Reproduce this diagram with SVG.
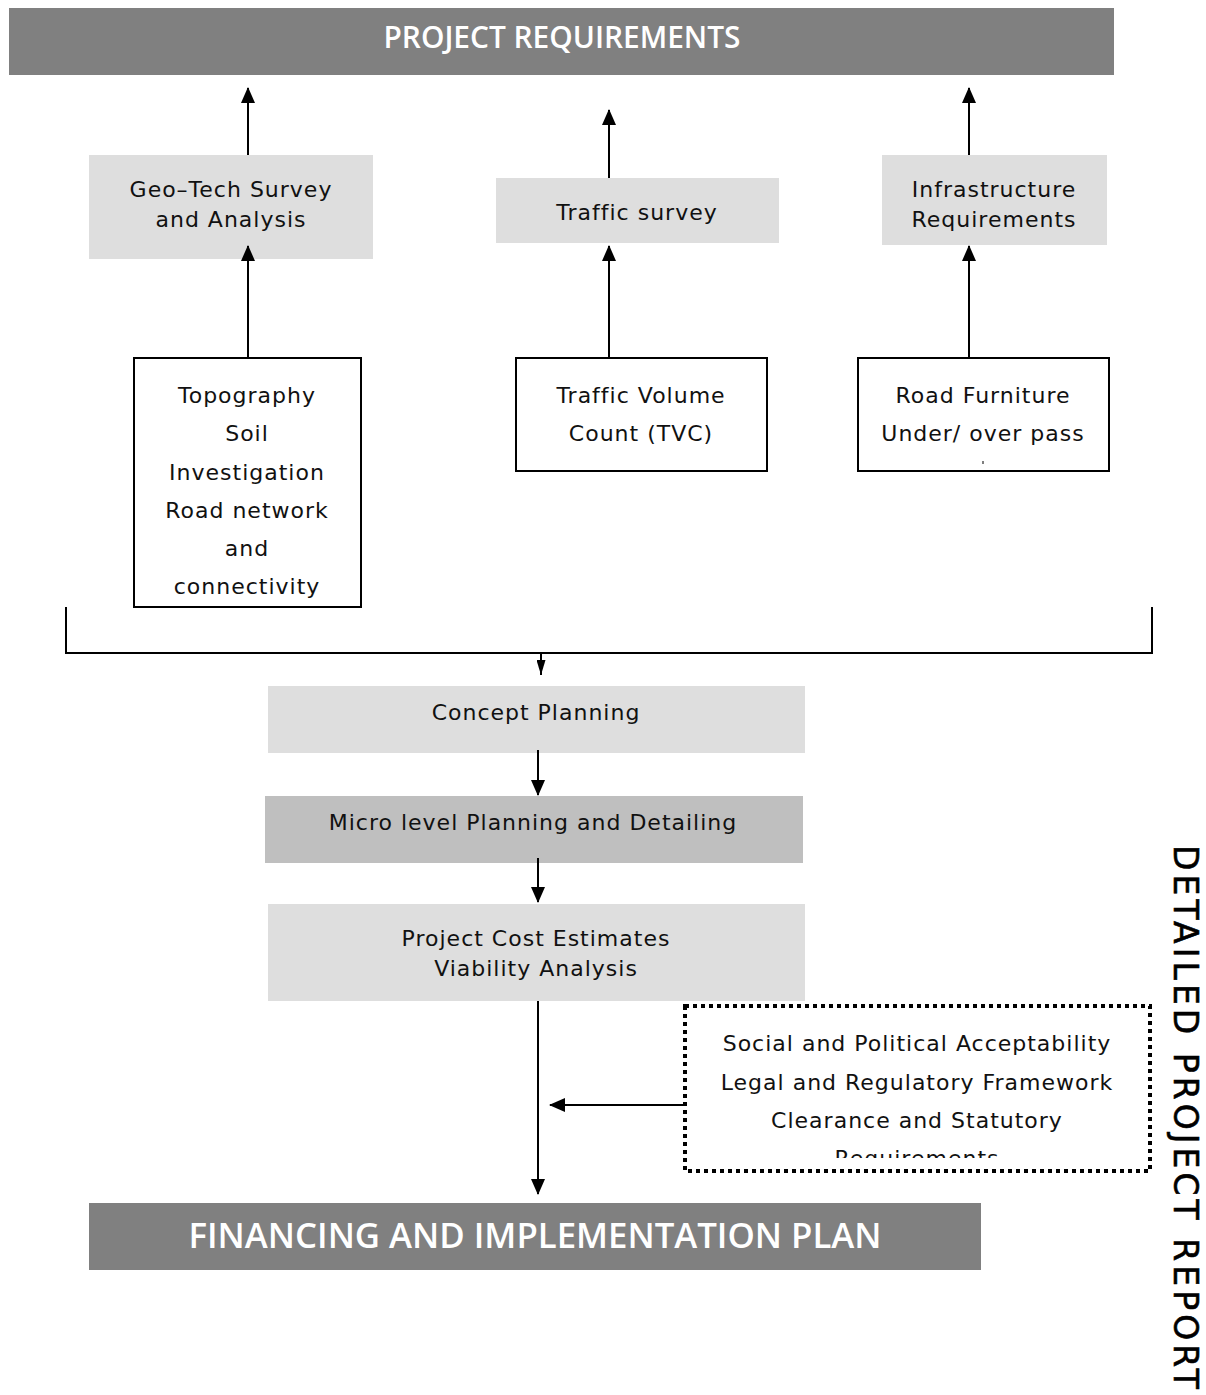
<svg xmlns="http://www.w3.org/2000/svg" width="1206" height="1395" viewBox="0 0 1206 1395">
  <style>
    .hdr { fill: #808080; }
    .lt { fill: #dedede; }
    .md { fill: #bfbfbf; }
    .wb { fill: #ffffff; stroke: #000000; stroke-width: 2; }
    .dot { fill: #ffffff; stroke: #000000; stroke-width: 4; stroke-dasharray: 4 4; }
    .t { font-family: "DejaVu Sans", Verdana, sans-serif; font-size: 22px; letter-spacing: 1px; fill: #111111; text-anchor: middle; }
    .ht { font-family: "Open Sans", "Liberation Sans", sans-serif; font-weight: 600; fill: #ffffff; text-anchor: middle; }
    .vt { font-family: "DejaVu Sans", Verdana, sans-serif; font-size: 33px; fill: #000000; stroke: #000000; stroke-width: 0.6; }
    .ln { stroke: #000000; stroke-width: 2; fill: none; }
  </style>
  <defs>
    <marker id="arr" markerWidth="15" markerHeight="9" refX="15" refY="4.5" orient="auto" markerUnits="userSpaceOnUse" viewBox="0 0 15 9">
      <path d="M0,0 L15,4.5 L0,9 Z" fill="#000000"/>
    </marker>
    <marker id="arrL" markerWidth="16" markerHeight="14" refX="15" refY="7" orient="auto" markerUnits="userSpaceOnUse" viewBox="0 0 16 14">
      <path d="M0,0 L16,7 L0,14 Z" fill="#000000"/>
    </marker>
    <clipPath id="clipTopo"><rect x="134" y="358" width="227" height="241"/></clipPath>
    <clipPath id="clipFurn"><rect x="858" y="358" width="251" height="106"/></clipPath>
    <clipPath id="clipDot"><rect x="685" y="1006" width="465" height="152"/></clipPath>
  </defs>

  <!-- top banner -->
  <g id="project-requirements">
    <rect class="hdr" x="9" y="8" width="1105" height="67"/>
    <text class="ht" x="562" y="48" font-size="31" textLength="357" lengthAdjust="spacingAndGlyphs">PROJECT REQUIREMENTS</text>
  </g>

  <!-- survey boxes -->
  <g id="geotech">
    <rect class="lt" x="89" y="155" width="284" height="104"/>
    <text class="t" x="231" y="197">Geo–Tech Survey</text>
    <text class="t" x="231" y="227">and Analysis</text>
  </g>
  <g id="traffic-survey">
    <rect class="lt" x="496" y="178" width="283" height="65"/>
    <text class="t" x="637" y="220">Traffic survey</text>
  </g>
  <g id="infrastructure">
    <rect class="lt" x="882" y="155" width="225" height="90"/>
    <text class="t" x="994" y="197">Infrastructure</text>
    <text class="t" x="994" y="227">Requirements</text>
  </g>

  <!-- input boxes -->
  <g id="topography">
    <rect class="wb" x="134" y="358" width="227" height="249"/>
    <g clip-path="url(#clipTopo)">
      <text class="t" x="247" y="403">Topography</text>
      <text class="t" x="247" y="441">Soil</text>
      <text class="t" x="247" y="480">Investigation</text>
      <text class="t" x="247" y="518">Road network</text>
      <text class="t" x="247" y="556">and</text>
      <text class="t" x="247" y="594">connectivity</text>
    </g>
  </g>
  <g id="tvc">
    <rect class="wb" x="516" y="358" width="251" height="113"/>
    <text class="t" x="641" y="403">Traffic Volume</text>
    <text class="t" x="641" y="441">Count (TVC)</text>
  </g>
  <g id="road-furniture">
    <rect class="wb" x="858" y="358" width="251" height="113"/>
    <g clip-path="url(#clipFurn)">
      <text class="t" x="983" y="403">Road Furniture</text>
      <text class="t" x="983" y="441">Under/ over pass</text>
    </g>
    <line x1="983" y1="461" x2="983" y2="464" stroke="#555555" stroke-width="1.5"/>
  </g>

  <!-- planning stages -->
  <g id="concept-planning">
    <rect class="lt" x="268" y="686" width="537" height="67"/>
    <text class="t" x="536" y="720">Concept Planning</text>
  </g>
  <g id="micro-planning">
    <rect class="md" x="265" y="796" width="538" height="67"/>
    <text class="t" x="533" y="830">Micro level Planning and Detailing</text>
  </g>
  <g id="cost-estimates">
    <rect class="lt" x="268" y="904" width="537" height="97"/>
    <text class="t" x="536" y="946">Project Cost Estimates</text>
    <text class="t" x="536" y="976">Viability Analysis</text>
  </g>

  <!-- external factors -->
  <g id="acceptability">
    <rect class="dot" x="685" y="1006" width="465" height="165"/>
    <g clip-path="url(#clipDot)">
      <text class="t" x="917" y="1051">Social and Political Acceptability</text>
      <text class="t" x="917" y="1090">Legal and Regulatory Framework</text>
      <text class="t" x="917" y="1128">Clearance and Statutory</text>
      <text class="t" x="917" y="1166">Requirements</text>
    </g>
  </g>

  <!-- bottom banner -->
  <g id="financing">
    <rect class="hdr" x="89" y="1203" width="892" height="67"/>
    <text class="ht" x="535" y="1248" font-size="35" textLength="693" lengthAdjust="spacingAndGlyphs">FINANCING AND IMPLEMENTATION PLAN</text>
  </g>

  <!-- side title -->
  <g id="side-title">
    <text class="vt" transform="translate(1174,845) rotate(90)" textLength="544" lengthAdjust="spacing">DETAILED PROJECT REPORT</text>
  </g>

  <!-- connectors -->
  <g id="connectors">
    <line class="ln" x1="248" y1="155" x2="248" y2="88" marker-end="url(#arrL)"/>
    <line class="ln" x1="609" y1="178" x2="609" y2="110" marker-end="url(#arrL)"/>
    <line class="ln" x1="969" y1="155" x2="969" y2="88" marker-end="url(#arrL)"/>

    <line class="ln" x1="248" y1="358" x2="248" y2="246" marker-end="url(#arrL)"/>
    <line class="ln" x1="609" y1="358" x2="609" y2="246" marker-end="url(#arrL)"/>
    <line class="ln" x1="969" y1="358" x2="969" y2="246" marker-end="url(#arrL)"/>

    <path class="ln" d="M66,607 V653 H1152 V607"/>
    <line class="ln" x1="541" y1="653" x2="541" y2="675" marker-end="url(#arr)"/>

    <line class="ln" x1="538" y1="750" x2="538" y2="795" marker-end="url(#arrL)"/>
    <line class="ln" x1="538" y1="858" x2="538" y2="902" marker-end="url(#arrL)"/>
    <line class="ln" x1="538" y1="1001" x2="538" y2="1194" marker-end="url(#arrL)"/>
    <line class="ln" x1="685" y1="1105" x2="550" y2="1105" marker-end="url(#arrL)"/>
  </g>
</svg>
